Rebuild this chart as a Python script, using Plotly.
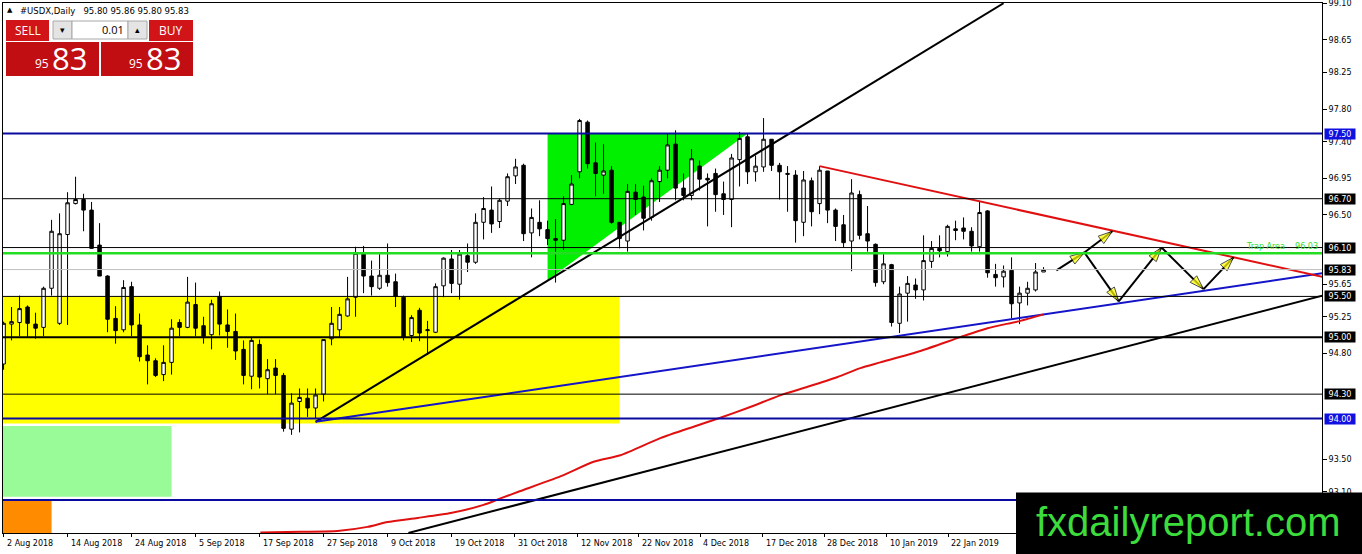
import plotly.graph_objects as go

# ---------------- DATA ----------------
OPEN = [94.67, 95.16, 95.18, 95.37, 95.16, 95.12, 95.60, 95.17, 96.26, 96.64,
        96.69, 96.56, 96.13, 95.75, 95.23, 95.09, 95.62, 95.15, 94.78, 94.71,
        94.54, 94.69, 95.18, 95.12, 95.40, 95.14, 95.03, 95.50, 95.15, 95.07,
        94.85, 94.52, 94.91, 94.49, 94.62, 94.53, 93.87, 94.21, 94.25, 94.13,
        94.30, 94.98, 95.09, 95.26, 95.49, 96.02, 95.75, 95.60, 95.76, 95.68,
        95.49, 95.02, 95.33, 95.08, 95.06, 95.63, 95.96, 95.65, 96.00, 95.92,
        96.41, 96.56, 96.42, 96.67, 96.98, 97.11, 96.28, 96.41, 96.32, 96.21,
        96.19, 96.63, 97.03, 97.64, 97.14, 96.99, 97.05, 96.41, 96.18, 96.78,
        96.72, 96.47, 96.91, 97.05, 97.37, 96.83, 96.74, 97.10, 96.95, 97.01,
        96.76, 96.69, 97.18, 97.46, 97.03, 97.09, 97.43, 97.11, 97.01, 96.99,
        96.41, 96.92, 96.64, 97.04, 96.56, 96.38, 96.18, 96.75, 96.27, 96.14,
        95.68, 95.89, 95.17, 95.54, 95.64, 95.58, 95.93, 96.09, 96.05, 96.33,
        96.34, 96.30, 96.11, 96.55, 95.77, 95.74, 95.82, 95.42, 95.54, 95.58,
        95.80]
HIGH = [95.19, 95.37, 95.51, 95.39, 95.30, 95.62, 96.44, 96.52, 96.78, 96.97,
        96.76, 96.66, 96.40, 95.76, 95.38, 95.70, 95.68, 95.29, 94.90, 94.74,
        94.90, 95.22, 95.22, 95.74, 95.67, 95.25, 95.46, 95.56, 95.34, 95.29,
        94.96, 95.00, 94.97, 94.73, 94.73, 94.56, 94.31, 94.37, 94.37, 94.37,
        94.97, 95.37, 95.37, 95.74, 96.11, 96.12, 95.94, 96.02, 96.15, 95.78,
        95.51, 95.27, 95.36, 95.20, 95.66, 95.98, 96.07, 96.07, 96.15, 96.52,
        96.72, 96.85, 96.70, 97.01, 97.19, 97.13, 96.58, 96.68, 96.43, 96.45,
        96.73, 96.99, 97.68, 97.66, 97.39, 97.37, 97.10, 96.41, 96.88, 96.88,
        96.86, 96.95, 97.10, 97.50, 97.54, 97.01, 97.31, 97.17, 97.01, 97.07,
        96.91, 97.25, 97.52, 97.50, 97.23, 97.69, 97.43, 97.14, 97.10, 97.05,
        97.04, 96.96, 97.10, 97.04, 96.58, 96.50, 96.94, 96.80, 96.61, 96.15,
        96.02, 95.90, 95.62, 95.75, 95.72, 96.25, 96.18, 96.25, 96.38, 96.43,
        96.47, 96.35, 96.66, 96.56, 95.90, 95.88, 95.98, 95.62, 95.68, 95.91,
        95.86]
LOW = [94.60, 94.96, 95.01, 95.00, 94.98, 95.01, 95.51, 95.15, 95.15, 96.63,
       96.30, 96.09, 95.75, 95.06, 94.92, 95.06, 95.01, 94.70, 94.42, 94.51,
       94.46, 94.54, 95.01, 95.11, 95.01, 94.92, 94.85, 95.02, 94.87, 94.72,
       94.42, 94.36, 94.37, 94.30, 94.30, 93.84, 93.80, 93.83, 94.02, 94.00,
       94.21, 94.90, 95.00, 95.25, 95.25, 95.54, 95.51, 95.58, 95.62, 95.37,
       94.96, 94.94, 94.95, 94.78, 95.05, 95.49, 95.54, 95.46, 95.80, 95.90,
       96.20, 96.28, 96.34, 96.61, 96.88, 96.18, 95.98, 96.24, 96.13, 95.67,
       96.07, 96.62, 96.95, 97.07, 96.73, 96.76, 96.39, 96.09, 96.05, 96.50,
       96.31, 96.43, 96.66, 96.95, 96.68, 96.68, 96.68, 96.80, 96.36, 96.54,
       96.50, 96.35, 96.85, 96.88, 96.91, 97.03, 97.04, 96.69, 96.54, 96.16,
       96.24, 96.36, 96.51, 96.40, 96.18, 96.10, 95.81, 96.20, 96.05, 95.62,
       95.65, 95.13, 95.05, 95.19, 95.47, 95.45, 95.85, 95.98, 95.99, 96.19,
       96.20, 96.05, 96.05, 95.73, 95.62, 95.61, 95.23, 95.16, 95.39, 95.56,
       95.80]
CLOSE = [95.17, 95.19, 95.35, 95.17, 95.11, 95.60, 96.30, 96.27, 96.65, 96.69,
         96.56, 96.09, 95.75, 95.22, 95.08, 95.61, 95.15, 94.76, 94.71, 94.53,
         94.69, 95.11, 95.12, 95.43, 95.11, 95.01, 95.41, 95.16, 95.07, 94.83,
         94.53, 94.96, 94.51, 94.60, 94.53, 93.88, 94.19, 94.26, 94.13, 94.29,
         94.97, 95.17, 95.28, 95.47, 96.03, 95.75, 95.62, 95.76, 95.67, 95.50,
         95.00, 95.24, 95.05, 95.09, 95.62, 95.97, 95.66, 96.02, 95.92, 96.41,
         96.58, 96.39, 96.68, 96.97, 97.09, 96.27, 96.47, 96.33, 96.21, 96.19,
         96.64, 96.88, 97.66, 97.13, 97.01, 97.04, 96.41, 96.21, 96.79, 96.69,
         96.46, 96.92, 97.05, 97.36, 96.83, 96.74, 97.19, 96.94, 96.93, 96.75,
         96.69, 97.20, 97.44, 97.03, 97.10, 97.43, 97.11, 97.03, 97.00, 96.43,
         96.93, 96.54, 97.05, 96.56, 96.36, 96.16, 96.77, 96.25, 96.18, 95.67,
         95.90, 95.18, 95.53, 95.66, 95.58, 95.94, 96.09, 96.06, 96.36, 96.31,
         96.30, 96.12, 96.53, 95.79, 95.73, 95.81, 95.41, 95.54, 95.60, 95.80,
         95.83]
BARS = list(range(len(CLOSE)))

DATE_LABELS = ["2 Aug 2018", "14 Aug 2018", "24 Aug 2018", "5 Sep 2018", "17 Sep 2018",
               "27 Sep 2018", "9 Oct 2018", "19 Oct 2018", "31 Oct 2018", "12 Nov 2018",
               "22 Nov 2018", "4 Dec 2018", "17 Dec 2018", "28 Dec 2018", "10 Jan 2019",
               "22 Jan 2019"]
DATE_BARS = [0, 8, 16, 24, 32, 40, 48, 56, 63.9, 71.75, 79.4, 87.1, 94.9, 102.6, 110.4, 118.1]

PRICE_TICKS = [99.10, 98.65, 98.25, 97.80, 97.40, 96.95, 96.50, 95.65, 95.25, 94.80,
               93.50, 93.10]

# moving-average curve (read at sample bars)
MA_BARS = [32.1, 37.1, 41.75, 45.5, 48.0, 51.75, 55.9, 60.0, 62.1, 64.6, 69.6, 73.75,
           77.1, 82.1, 86.25, 89.6, 93.0, 97.5, 100.5, 104.25, 107.1, 109.6, 114.6,
           119.6, 123.0, 127.1, 130.0]
MA_VALUES = [92.60, 92.61, 92.62, 92.67, 92.73, 92.78, 92.84, 92.94, 93.02, 93.11,
             93.29, 93.47, 93.55, 93.76, 93.90, 94.01, 94.13, 94.30, 94.39, 94.51,
             94.62, 94.69, 94.83, 95.00, 95.11, 95.20, 95.28]

# horizontal levels
LEVEL_PRICES = [97.50, 96.70, 96.10, 96.03, 95.83, 95.50, 95.00, 94.30, 94.00, 93.00]
LEVEL_LABELS = ["97.50", "96.70", "96.10", None, "95.83", "95.50", "95.00", "94.30", "94.00", None]

# trend lines (bar, price)
TL_UP_BARS, TL_UP_PRICES = [39, 125], [93.96, 99.10]
TL_LOW_BARS, TL_LOW_PRICES = [50.6, 164.9], [92.595, 95.51]
TL_BLUE_BARS, TL_BLUE_PRICES = [39, 164.9], [93.96, 95.785]
TL_RED_BARS, TL_RED_PRICES = [102.0, 164.9], [97.10, 95.74]

# zones
TRI_BARS, TRI_PRICES = [68, 93, 68], [97.50, 97.50, 95.70]
YELLOW_ZONE = (-5, 77, 93.94, 95.50)
PALEGREEN_ZONE = (-5, 21, 93.04, 93.91)
ORANGE_ZONE = (-5, 6, 92.0, 92.99)

# projected path arrows (bar, price) segments
ARROW_SEGMENTS = [
    ((131.6, 95.82), (135.1, 96.04)),
    ((135.1, 96.04), (138.6, 96.30)),
    ((135.1, 96.04), (139.4, 95.44)),
    ((139.4, 95.44), (144.75, 96.10)),
    ((144.75, 96.10), (150.0, 95.59)),
    ((150.0, 95.59), (153.75, 95.98)),
]

# ---------------- FIGURE ----------------
W, H = 1362, 554
PL, PR, PT, PB = 3, 1322, 3, 533
Y_LOW, Y_HIGH = 92.595, 99.103


def pxx(px):
    return (px - PL) / (PR - PL)


def pxy(py):
    return (PB - py) / (PB - PT)


fig = go.Figure()

fig.add_trace(go.Candlestick(
    x=BARS, open=OPEN, high=HIGH, low=LOW, close=CLOSE,
    increasing=dict(line=dict(color="black", width=1), fillcolor="white"),
    decreasing=dict(line=dict(color="black", width=1), fillcolor="black"),
    whiskerwidth=0, hoverinfo="skip", showlegend=False))

# trend lines
for bx, py, col in [(TL_UP_BARS, TL_UP_PRICES, "black"),
                    (TL_LOW_BARS, TL_LOW_PRICES, "black"),
                    (TL_BLUE_BARS, TL_BLUE_PRICES, "#1414C8"),
                    (TL_RED_BARS, TL_RED_PRICES, "#E01010")]:
    fig.add_trace(go.Scatter(x=bx, y=py, mode="lines", line=dict(color=col, width=2),
                             hoverinfo="skip", showlegend=False))

fig.add_trace(go.Scatter(x=MA_BARS, y=MA_VALUES, mode="lines",
                         line=dict(color="#E01010", width=2, shape="spline", smoothing=0.6),
                         hoverinfo="skip", showlegend=False))

# arrows
for (x0, y0), (x1, y1) in ARROW_SEGMENTS:
    fig.add_trace(go.Scatter(
        x=[x0, x1], y=[y0, y1], mode="lines+markers",
        line=dict(color="black", width=2, backoff=0),
        marker=dict(symbol="arrow", angleref="previous", size=[0, 15], color="#FFFF00",
                    line=dict(color="black", width=1)),
        hoverinfo="skip", showlegend=False))

shapes = []
# background zones
x0, x1, y0, y1 = YELLOW_ZONE
shapes.append(dict(type="rect", xref="x", yref="y", x0=x0, x1=x1, y0=y0, y1=y1,
                   fillcolor="#FFFF00", line=dict(width=0), layer="below"))
x0, x1, y0, y1 = PALEGREEN_ZONE
shapes.append(dict(type="rect", xref="x", yref="y", x0=x0, x1=x1, y0=y0, y1=y1,
                   fillcolor="#98FB98", line=dict(width=0), layer="below"))
x0, x1, y0, y1 = ORANGE_ZONE
shapes.append(dict(type="rect", xref="x", yref="y", x0=x0, x1=x1, y0=y0, y1=y1,
                   fillcolor="#FF8C00", line=dict(width=0), layer="below"))
tri_path = "M {} {} L {} {} L {} {} Z".format(TRI_BARS[0], TRI_PRICES[0], TRI_BARS[1],
                                              TRI_PRICES[1], TRI_BARS[2], TRI_PRICES[2])
shapes.append(dict(type="path", xref="x", yref="y", path=tri_path,
                   fillcolor="#00F000", line=dict(width=0), layer="below"))

LEVEL_STYLE = {
    97.50: ("#0A0AA0", 2), 96.70: ("black", 1), 96.10: ("black", 1), 96.03: ("#22DD22", 2.5),
    95.83: ("#C0C0C0", 1), 95.50: ("black", 1), 95.00: ("black", 2), 94.30: ("black", 1),
    94.00: ("#0A0AA0", 2), 93.00: ("#0A0AA0", 2),
}
for p in LEVEL_PRICES:
    col, wd = LEVEL_STYLE[p]
    shapes.append(dict(type="line", xref="paper", yref="y", x0=0, x1=1, y0=p, y1=p,
                       line=dict(color=col, width=wd), layer="above"))

# watermark box
shapes.append(dict(type="rect", xref="paper", yref="paper", x0=pxx(1016), x1=pxx(1362),
                   y0=pxy(554), y1=pxy(492.5), fillcolor="black", line=dict(width=0),
                   layer="above"))

# trade panel
def prect(a, b, c, d, fill, line=None):
    shapes.append(dict(type="rect", xref="paper", yref="paper", x0=pxx(a), x1=pxx(c),
                       y0=pxy(d), y1=pxy(b), fillcolor=fill,
                       line=dict(width=1 if line else 0, color=line or fill), layer="above"))

prect(6, 20, 49, 41, "#D01418")
prect(6, 42, 99, 76, "#C00E12")
prect(149, 20, 193, 41, "#D01418")
prect(101, 42, 193, 76, "#C00E12")
prect(53, 21, 72, 39, "#E4E4E4", "#A8A8A8")
prect(72, 21, 128, 39, "white", "#A8A8A8")
prect(128, 21, 147, 39, "#E4E4E4", "#A8A8A8")

annotations = []
LABEL_BG = {97.50: "#1010E0", 94.00: "#1010E0"}
for p, lab in zip(LEVEL_PRICES, LEVEL_LABELS):
    if lab is None:
        continue
    annotations.append(dict(xref="paper", yref="y", x=pxx(1324), y=p, xanchor="left",
                            yanchor="middle", text=lab, showarrow=False,
                            bgcolor=LABEL_BG.get(p, "black"), borderpad=0, width=30, height=10,
                            font=dict(family="DejaVu Sans", size=8, color="white")))

annotations.append(dict(xref="paper", yref="y", x=pxx(1320), y=96.03, xanchor="right",
                        yanchor="bottom", yshift=0, showarrow=False,
                        text="Trap Area\u00a0\u00a0\u00a0 96.03",
                        font=dict(family="DejaVu Sans", size=8, color="#30E030")))

for b, lab in zip(DATE_BARS, DATE_LABELS):
    annotations.append(dict(xref="x", yref="paper", x=b, y=pxy(543), xanchor="left",
                            yanchor="middle", xshift=1, text=lab, showarrow=False,
                            font=dict(family="DejaVu Sans", size=8, color="black")))

def ptext(px, py, txt, size, color="white", anchor="center", family="Open Sans"):
    annotations.append(dict(xref="paper", yref="paper", x=pxx(px), y=pxy(py), xanchor=anchor,
                            yanchor="middle", text=txt, showarrow=False,
                            font=dict(family=family, size=size, color=color)))

ptext(10, 10, "\u25b2", 7, "black", family="DejaVu Sans")
ptext(18, 10.5, "#USDX,Daily\u00a0\u00a0 95.80 95.86 95.80 95.83", 8.5, "black", "left",
      family="DejaVu Sans")
ptext(27.5, 31, "SELL", 12)
ptext(171, 31, "BUY", 12)
ptext(62.5, 30, "\u25be", 9, "black", family="DejaVu Sans")
ptext(137.5, 30, "\u25b4", 9, "black", family="DejaVu Sans")
ptext(126, 30, "0.01", 11, "black", "right")
ptext(41.5, 64, "95", 12)
ptext(69, 58, "83", 31)
ptext(135.5, 64, "95", 12)
ptext(163, 58, "83", 31)
ptext(1188, 522, "fxdailyreport.com", 40, "#3CDC3C", family="Liberation Sans")

fig.update_layout(
    width=W, height=H, autosize=False,
    margin=dict(l=PL, r=W - PR, t=PT, b=H - PB, pad=0, autoexpand=False),
    paper_bgcolor="white", plot_bgcolor="white",
    showlegend=False, boxgap=0.38,
    shapes=shapes, annotations=annotations,
    xaxis=dict(range=[-0.07, (PR - PL) / 8 - 0.07], showgrid=False, zeroline=False,
               showline=True, mirror=True, linecolor="black", linewidth=1, automargin=False,
               ticks="outside", ticklen=3, tickcolor="black", tickvals=DATE_BARS,
               showticklabels=False, rangeslider=dict(visible=False), fixedrange=True),
    yaxis=dict(range=[Y_LOW, Y_HIGH], side="right", showgrid=False, zeroline=False,
               showline=True, mirror=True, linecolor="black", linewidth=1, automargin=False,
               ticks="outside", ticklen=4, tickcolor="black", ticklabeloverflow="allow",
               tickvals=PRICE_TICKS, ticktext=["%.2f" % v for v in PRICE_TICKS],
               tickfont=dict(family="DejaVu Sans", size=8, color="black"), fixedrange=True),
)

fig.write_html("out.html", config={"displayModeBar": False},
               post_script="document.body.style.margin='0';")
